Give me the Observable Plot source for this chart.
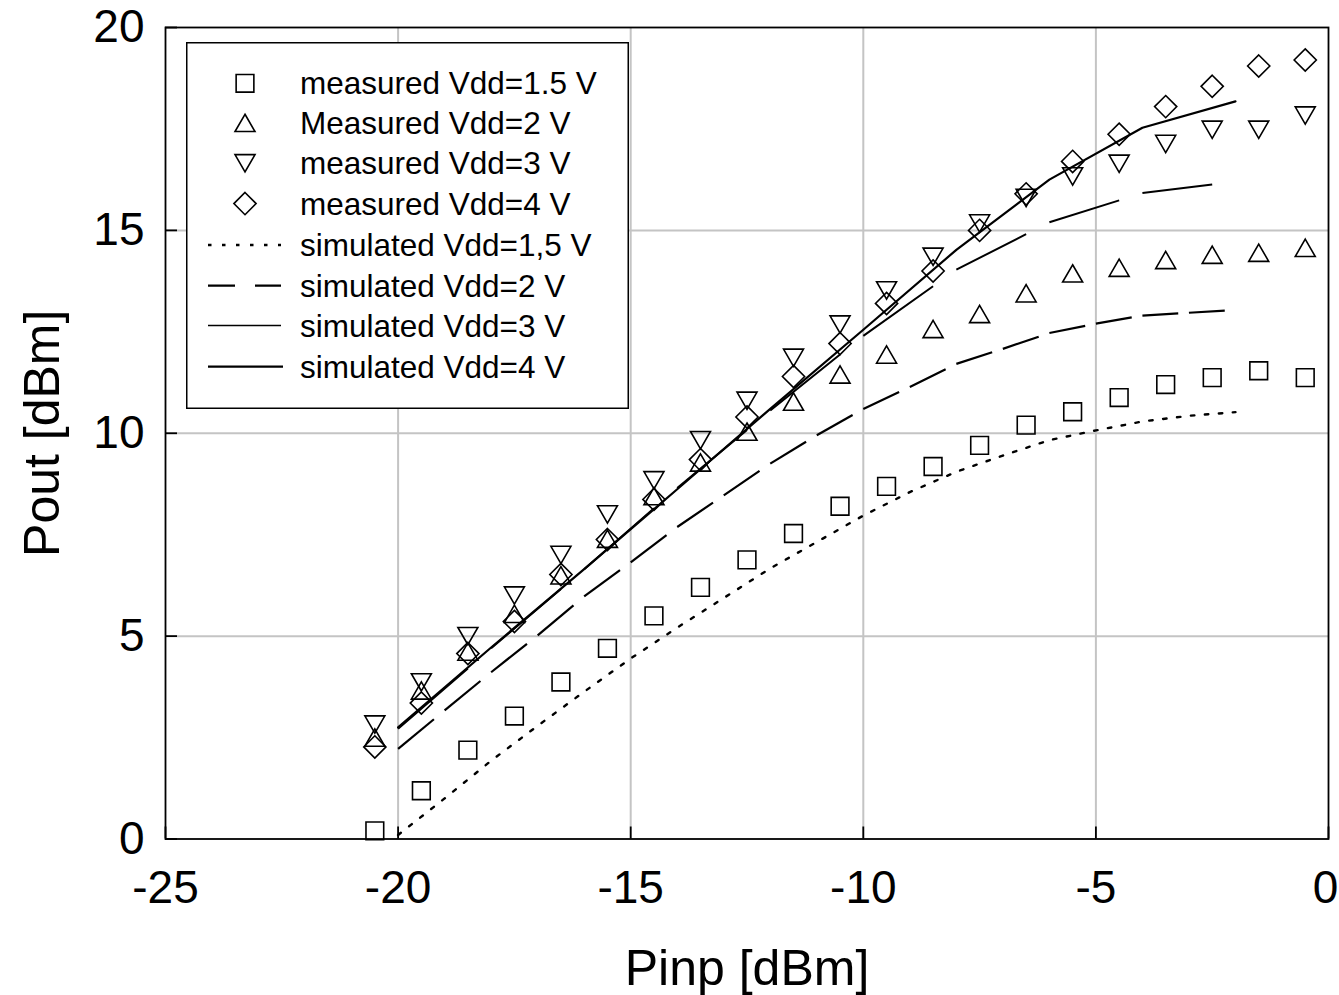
<!DOCTYPE html>
<html><head><meta charset="utf-8">
<script src="https://cdn.jsdelivr.net/npm/d3@7"></script>
<script src="https://cdn.jsdelivr.net/npm/@observablehq/plot@0.6"></script>
<style>
html,body{margin:0;padding:0;background:#fff;overflow:hidden;}
#wrap{position:relative;width:1339px;height:995px;font-family:"Liberation Sans",Arial,Helvetica,sans-serif;}
#legend{position:absolute;left:186px;top:42px;}
</style></head><body><div id="wrap"></div>
<script>
// measured input powers (dBm)
const pinMeasured = [-20.5,-19.5,-18.5,-17.5,-16.5,-15.5,-14.5,-13.5,-12.5,-11.5,-10.5,-9.5,-8.5,-7.5,-6.5,-5.5,-4.5,-3.5,-2.5,-1.5,-0.5];
const meas15 = [0.2,1.19,2.19,3.03,3.87,4.7,5.5,6.2,6.88,7.53,8.2,8.69,9.18,9.7,10.2,10.53,10.88,11.2,11.37,11.54,11.37];
const meas2  = [2.5,3.66,4.62,5.55,6.5,7.4,8.45,9.28,10.04,10.78,11.45,11.94,12.57,12.94,13.45,13.94,14.08,14.27,14.4,14.45,14.57];
const meas3  = [2.82,3.86,5.0,6.0,7.0,8.0,8.84,9.83,10.8,11.86,12.68,13.52,14.35,15.17,15.8,16.33,16.64,17.13,17.48,17.48,17.83];
const meas4  = [2.27,3.35,4.57,5.36,6.52,7.38,8.37,9.35,10.4,11.4,12.21,13.2,14.0,15.0,15.9,16.7,17.37,18.05,18.55,19.05,19.2];

// simulated curves
const pinSim1 = [-20,-19,-18,-17,-16,-15,-14,-13,-12,-11,-10,-9,-8,-7,-6,-5,-4,-3,-2];
const sim15 = [0.1,1.0,1.93,2.79,3.63,4.45,5.21,5.94,6.67,7.32,7.97,8.55,9.05,9.45,9.83,10.07,10.29,10.43,10.52];
const sim2  = [2.22,3.17,4.11,5.02,5.98,6.82,7.69,8.47,9.25,9.95,10.6,11.14,11.71,12.08,12.47,12.7,12.9,12.97,13.04];
const pinSim2 = [-20,-18,-16,-14,-12,-10,-8,-6,-4,-2];
const sim3 = [2.72,4.7,6.65,8.65,10.56,12.4,14.03,15.2,15.92,16.2];
const sim4 = [2.75,4.72,6.65,8.62,10.6,12.55,14.52,16.25,17.53,18.18];

const xTicks = [-25,-20,-15,-10,-5,0];
const xTickLabelsMain = [-25,-20,-15,-10,-5];
const xTickLabelsEdge = [0];
const yTicks = [0,5,10,15,20];
const xGrid = [-20,-15,-10,-5];
const yGrid = [5,10,15];

const legendItems = [
  {label:"measured Vdd=1.5 V", kind:"square"},
  {label:"Measured Vdd=2 V", kind:"triUp"},
  {label:"measured Vdd=3 V", kind:"triDown"},
  {label:"measured Vdd=4 V", kind:"diamond"},
  {label:"simulated Vdd=1,5 V", kind:"dotted"},
  {label:"simulated Vdd=2 V", kind:"dashed"},
  {label:"simulated Vdd=3 V", kind:"solid3"},
  {label:"simulated Vdd=4 V", kind:"solid4"}
];

const segs = (xs, ys) => d3.pairs(xs.map((x, i) => [x, ys[i]]));

const triR = 7.42, sqR = 10, diaR = 10, mSW = 1.6;
const DASH2 = "0.77 0.23", DASH3 = "0.75 0.25";

const plot = Plot.plot({
  width: 1339, height: 995,
  marginLeft: 165, marginRight: 11, marginTop: 27, marginBottom: 156.5,
  x: {domain: [-25, 0]},
  y: {domain: [0, 20]},
  style: {fontFamily: '"Liberation Sans", Arial, Helvetica, sans-serif', color: "black", background: "white"},
  marks: [
    Plot.gridX(xGrid, {stroke: "#c4c4c4", strokeOpacity: 1, strokeWidth: 2}),
    Plot.gridY(yGrid, {stroke: "#c4c4c4", strokeOpacity: 1, strokeWidth: 2}),
    Plot.line(pinSim1, {x: d => d, y: (d, i) => sim15[i], stroke: "black", strokeWidth: 2.4, strokeDasharray: "3.5,10.5"}),
    Plot.link(segs(pinSim1, sim2), {x1: d => d[0][0], y1: d => d[0][1], x2: d => d[1][0], y2: d => d[1][1], stroke: "black", strokeWidth: 2.2, strokeDasharray: DASH2}),
    Plot.link(segs(pinSim2, sim3), {x1: d => d[0][0], y1: d => d[0][1], x2: d => d[1][0], y2: d => d[1][1], stroke: "black", strokeWidth: 2, strokeDasharray: DASH3}),
    Plot.line(pinSim2, {x: d => d, y: (d, i) => sim4[i], stroke: "black", strokeWidth: 2.2}),
    Plot.dot(pinMeasured, {x: d => d, y: (d, i) => meas15[i], symbol: "square", r: sqR, stroke: "black", fill: "none", strokeWidth: mSW}),
    Plot.dot(pinMeasured, {x: d => d, y: (d, i) => meas2[i], symbol: "triangle", r: triR, dy: 2.9, stroke: "black", fill: "none", strokeWidth: mSW}),
    Plot.dot(pinMeasured, {x: d => d, y: (d, i) => meas3[i], symbol: "triangle", rotate: 180, r: triR, dy: -2.9, stroke: "black", fill: "none", strokeWidth: mSW}),
    Plot.dot(pinMeasured, {x: d => d, y: (d, i) => meas4[i], symbol: "diamond2", r: diaR, stroke: "black", fill: "none", strokeWidth: mSW}),
    Plot.frame({stroke: "black", strokeWidth: 1.8}),
    Plot.axisX({ticks: xTicks, tickSize: -12, stroke: "black", strokeWidth: 1.8, fill: "none", label: null, tickFormat: () => ""}),
    Plot.axisY({ticks: yTicks, tickSize: -12, stroke: "black", strokeWidth: 1.8, fill: "none", label: null, tickFormat: () => ""}),
    Plot.axisX({ticks: xTickLabelsMain, tickSize: 0, tickPadding: 31, fontSize: 46, label: null, tickFormat: d => String(d)}),
    Plot.axisX({ticks: xTickLabelsEdge, tickSize: 0, tickPadding: 31, fontSize: 46, label: null, dx: -3, tickFormat: d => String(d)}),
    Plot.axisY({ticks: yTicks, tickSize: 0, tickPadding: 21, fontSize: 46, label: null, tickFormat: d => String(d)}),
    Plot.text(["Pinp [dBm]"], {frameAnchor: "bottom", textAnchor: "middle", lineAnchor: "middle", dy: 130, fontSize: 50, fill: "black"}),
    Plot.text(["Pout [dBm]"], {frameAnchor: "left", textAnchor: "middle", lineAnchor: "middle", dx: -123, rotate: -90, fontSize: 50, fill: "black"})
  ]
});

const wrap = document.getElementById("wrap");
wrap.appendChild(plot);

// restart the dash pattern on each simulated segment, scaled to the segment length
[DASH2, DASH3].forEach(pat => {
  const [a, b] = pat.split(" ").map(Number);
  d3.select(plot).selectAll(`g[stroke-dasharray="${pat}"] path, path[stroke-dasharray="${pat}"]`).each(function () {
    const L = this.getTotalLength();
    this.setAttribute("stroke-dasharray", `${(a * L).toFixed(2)} ${(b * L).toFixed(2)}`);
  });
  d3.select(plot).selectAll(`g[stroke-dasharray="${pat}"]`).attr("stroke-dasharray", null);
});

// legend overlay inside the plot frame
const LW = 443, LH = 367;
const lg = d3.select(wrap).append("svg").attr("id", "legend").attr("width", LW).attr("height", LH)
  .style("font-family", '"Liberation Sans", Arial, Helvetica, sans-serif');
lg.append("rect").attr("x", 0.75).attr("y", 0.75).attr("width", LW - 1.5).attr("height", LH - 1.5)
  .attr("fill", "white").attr("stroke", "black").attr("stroke-width", 1.5);
const rowY = [41.3, 80.9, 121.3, 161.6, 203, 243.7, 283.5, 324.7];
const symX = 59, lx1 = 22, lx2 = 95, tx = 114;
const symSize = r => Math.PI * r * r;
legendItems.forEach((it, i) => {
  const y = rowY[i];
  const g = lg.append("g");
  if (it.kind === "square") {
    g.append("path").attr("d", d3.symbol(d3.symbolSquare, symSize(sqR))()).attr("transform", `translate(${symX},${y})`)
      .attr("fill", "none").attr("stroke", "black").attr("stroke-width", mSW);
  } else if (it.kind === "triUp") {
    g.append("path").attr("d", d3.symbol(d3.symbolTriangle, symSize(triR))()).attr("transform", `translate(${symX},${y + 2.9})`)
      .attr("fill", "none").attr("stroke", "black").attr("stroke-width", mSW);
  } else if (it.kind === "triDown") {
    g.append("path").attr("d", d3.symbol(d3.symbolTriangle, symSize(triR))()).attr("transform", `translate(${symX},${y - 2.9}) rotate(180)`)
      .attr("fill", "none").attr("stroke", "black").attr("stroke-width", mSW);
  } else if (it.kind === "diamond") {
    g.append("path").attr("d", d3.symbol(d3.symbolDiamond2, symSize(diaR))()).attr("transform", `translate(${symX},${y})`)
      .attr("fill", "none").attr("stroke", "black").attr("stroke-width", mSW);
  } else {
    const ln = g.append("line").attr("x1", lx1).attr("x2", it.kind === "solid4" ? lx2 + 2 : lx2).attr("y1", y).attr("y2", y).attr("stroke", "black");
    if (it.kind === "dotted") ln.attr("stroke-width", 2.4).attr("stroke-dasharray", "3.5,10.5");
    if (it.kind === "dashed") ln.attr("stroke-width", 2.2).attr("stroke-dasharray", "27,20");
    if (it.kind === "solid3") ln.attr("stroke-width", 1.7);
    if (it.kind === "solid4") ln.attr("stroke-width", 2.3);
  }
  g.append("text").attr("x", tx).attr("y", y).attr("dominant-baseline", "central")
    .attr("font-size", 31.5).attr("fill", "black").text(it.label);
});
</script></body></html>
